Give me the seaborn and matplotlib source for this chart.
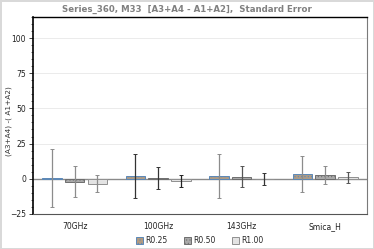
import numpy as np
import pandas as pd
import matplotlib
matplotlib.use('Agg')
import matplotlib.pyplot as plt
from matplotlib.ticker import MultipleLocator
from matplotlib.patches import Patch
import seaborn as sns

# Data
categories = ['70GHz', '100GHz', '143GHz', 'Smica_H']
series = ['R0.25', 'R0.50', 'R1.00']
r025 = [0.5, 2.0, 2.0, 3.5]
r050 = [-2.0, 0.5, 1.5, 2.5]
r100 = [-3.5, -1.5, 0.0, 1.0]
r025_err = [20.5, 15.5, 15.5, 13.0]
r050_err = [11.0, 7.5, 7.5, 6.5]
r100_err = [6.0, 4.2, 4.3, 3.7]

df = pd.DataFrame({
    'band': categories * 3,
    'run': [s for s in series for _ in categories],
    'value': r025 + r050 + r100,
    'err': r025_err + r050_err + r100_err,
})

sns.set_style('white')
plt.rcParams['font.family'] = ['DejaVu Sans']
plt.rcParams['hatch.linewidth'] = 0.4

fig = plt.figure(figsize=(3.74, 2.49), dpi=100)
ax = fig.add_axes([0.088, 0.141, 0.893, 0.791])

fills = {'R0.25': '#b39b80', 'R0.50': '#a9a9a9', 'R1.00': '#e3e3e3'}
edges = {'R0.25': '#5b88b8', 'R0.50': '#6e6e6e', 'R1.00': '#909090'}
hatches = {'R0.25': '.....', 'R0.50': '.....', 'R1.00': ''}

sns.barplot(data=df, x='band', y='value', hue='run', order=categories,
            hue_order=series, palette=fills, width=0.82, gap=0.15,
            errorbar=None, ax=ax, zorder=3, legend=False)

# style bars and add the precomputed standard errors
err_cols = [['#8c8c8c', '#333333', '#8c8c8c', '#8c8c8c'],
            ['#8c8c8c', '#333333', '#555555', '#8c8c8c'],
            ['#8c8c8c', '#222222', '#333333', '#555555']]
for i, (cont, s) in enumerate(zip(ax.containers, series)):
    sub = df[df['run'] == s].set_index('band').loc[categories]
    for j, bar in enumerate(cont):
        bar.set_edgecolor(edges[s])
        bar.set_linewidth(0.7)
        bar.set_hatch(hatches[s])
        xc = bar.get_x() + bar.get_width() / 2
        ax.errorbar(xc, sub['value'].iloc[j], yerr=sub['err'].iloc[j],
                    fmt='none', ecolor=err_cols[i][j], elinewidth=0.9,
                    capsize=1.5, capthick=0.7, zorder=4)

ax.axhline(0, color='#8a8a8a', lw=1.0, zorder=2)
ax.set_ylim(-25, 115)
ax.set_xlim(-0.5, 3.5)
ax.set_yticks([-25, 0, 25, 50, 75, 100])
ax.yaxis.set_minor_locator(MultipleLocator(5))
ax.grid(axis='y', color='#e8e8e8', lw=0.6, zorder=0)
ax.tick_params(axis='y', which='major', left=True, length=3, width=0.6,
               labelsize=5.5, colors='#222222', pad=2)
ax.tick_params(axis='y', which='minor', left=True, length=1.5, width=0.5)
ax.tick_params(axis='x', length=0, labelsize=5.5, colors='#222222', pad=6)

for side, c, w in [('left', '#000000', 1.2), ('top', '#000000', 1.0),
                   ('right', '#7a7a7a', 0.8), ('bottom', '#555555', 0.8)]:
    ax.spines[side].set_visible(True)
    ax.spines[side].set_color(c)
    ax.spines[side].set_linewidth(w)

ax.set_xlabel('')
ax.set_ylabel('(A3+A4) -( A1+A2)', fontsize=5.3, color='#333333')
ax.yaxis.set_label_coords(-0.062, 0.47)
ax.set_title('Series_360, M33  [A3+A4 - A1+A2],  Standard Error',
             fontsize=6.2, color='#808080', fontweight='bold', pad=4, x=0.46)

handles = [Patch(facecolor=fills[s], edgecolor=edges[s], hatch=hatches[s],
                 linewidth=0.7, label=s) for s in series]
ax.legend(handles=handles, loc='upper center', bbox_to_anchor=(0.5, -0.085),
          ncol=3, frameon=False, fontsize=5.5, handlelength=0.9,
          handleheight=0.9, handletextpad=0.3, columnspacing=2.2,
          borderpad=0.2)

fig.patch.set_edgecolor('#d9d9d9')
fig.patch.set_linewidth(1)
fig.savefig('out.png', dpi=100, edgecolor=fig.get_edgecolor())
